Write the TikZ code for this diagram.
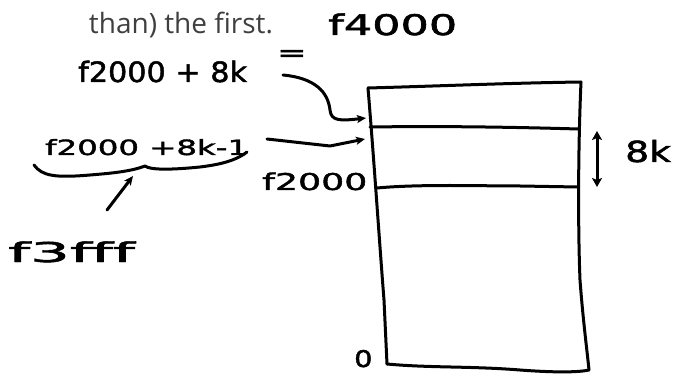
\documentclass[tikz,border=0pt]{standalone}
\usepackage{fontspec}
\setmainfont{Open Sans}
\newfontfamily\hand[FakeBold=1.6]{DejaVu Sans}
\usetikzlibrary{arrows.meta}
\definecolor{prosegray}{HTML}{3F3F3F}
\tikzset{
  ink/.style={line width=3pt, line cap=round, line join=round, black},
  inkarrow/.style={ink, -{Stealth[length=9pt,width=8pt,inset=2pt]}},
  inkdouble/.style={ink, {Stealth[length=9pt,width=10pt,inset=2pt]}-{Stealth[length=9pt,width=10pt,inset=2pt]}},
  handlabel/.style={inner sep=0pt, anchor=base west, text=black},
  prose/.style={inner sep=0pt, anchor=base, text=prosegray, font=\fontsize{28}{30}\selectfont}
}
\begin{document}
\begin{tikzpicture}[x=1pt,y=-1pt]
\useasboundingbox (0,0) rectangle (673,377);
% printed text
\node[prose] (prose) at (181,34) {than) the first.};
% handwritten labels
\node[handlabel, font=\hand\fontsize{28}{30}\selectfont] (top) at (78,82) {\scalebox{1.08}[1]{f2000 + 8k}};
\node[handlabel, font=\hand\fontsize{28}{30}\selectfont] (eq) at (277,61) {\scalebox{1.25}[0.85]{=}};
\node[handlabel, font=\hand\fontsize{27}{30}\selectfont] (ffour) at (328,35) {\scalebox{1.65}[1.05]{f4000}};
\node[handlabel, font=\hand\fontsize{20}{24}\selectfont] (minus) at (45,155) {\scalebox{1.62}[1.05]{f2000 +8k-1}};
\node[handlabel, font=\hand\fontsize{26}{30}\selectfont] (fff) at (8,262) {\scalebox{2.4}[1.05]{f3fff}};
\node[handlabel, font=\hand\fontsize{22}{26}\selectfont] (ftwo) at (262,190) {\scalebox{1.65}[1.05]{f2000}};
\node[handlabel, font=\hand\fontsize{29}{32}\selectfont] (eightk) at (625,162) {\scalebox{1.3}[1]{8k}};
\node[handlabel, font=\hand\fontsize{23}{26}\selectfont] (zero) at (354,367) {\scalebox{1.25}[1]{0}};
% memory box corners
\coordinate (tl) at (368,88);
\coordinate (tr) at (581,82);
\coordinate (bl) at (387,364);
\coordinate (br) at (589,370);
\coordinate (l1) at (370,127);
\coordinate (r1) at (578,129);
\coordinate (l2) at (377,188);
\coordinate (r2) at (578,187);
% box outline
\draw[ink] (tl) .. controls (440,86) and (510,83) .. (tr);
\draw[ink] (tl) .. controls (374,160) and (380,250) .. (384,300) -- (bl);
\draw[ink] (tr) .. controls (578,150) and (578,230) .. (580,280) .. controls (583,320) and (587,350) .. (br);
\draw[ink] (bl) .. controls (430,368) and (470,366) .. (520,370) .. controls (560,373) and (580,372) .. (br);
\draw[ink] (l1) .. controls (440,126) and (510,127) .. (r1);
\draw[ink] (l2) .. controls (420,184) and (480,186) .. (520,186) -- (r2);
% arrow points
\coordinate (a1) at (366,118);
\coordinate (a2) at (365,139);
\coordinate (u) at (597,131);
\coordinate (d) at (597,187);
% curved arrow from f2000+8k
\draw[inkarrow] (283,75) .. controls (315,78) and (328,92) .. (330,110)
  .. controls (331,121) and (340,121) .. (a1);
% arrow from f2000+8k-1
\draw[inkarrow] (267,139) -- (330,146) -- (a2);
% 8k double arrow
\draw[inkdouble] (u) -- (d);
% brace under f2000+8k-1
\coordinate (bs) at (34,165);
\coordinate (be) at (247,152);
\coordinate (bump) at (145,166);
\draw[ink] (bs) .. controls (42,176) and (55,178) .. (90,175)
  .. controls (115,173) and (132,171) .. (bump)
  .. controls (150,170) and (170,170) .. (200,167)
  .. controls (225,164) and (238,159) .. (be);
% arrow from f3fff to brace
\coordinate (fffarrow) at (107,210);
\draw[inkarrow] (fffarrow) -- (133,176);
\end{tikzpicture}
\end{document}
